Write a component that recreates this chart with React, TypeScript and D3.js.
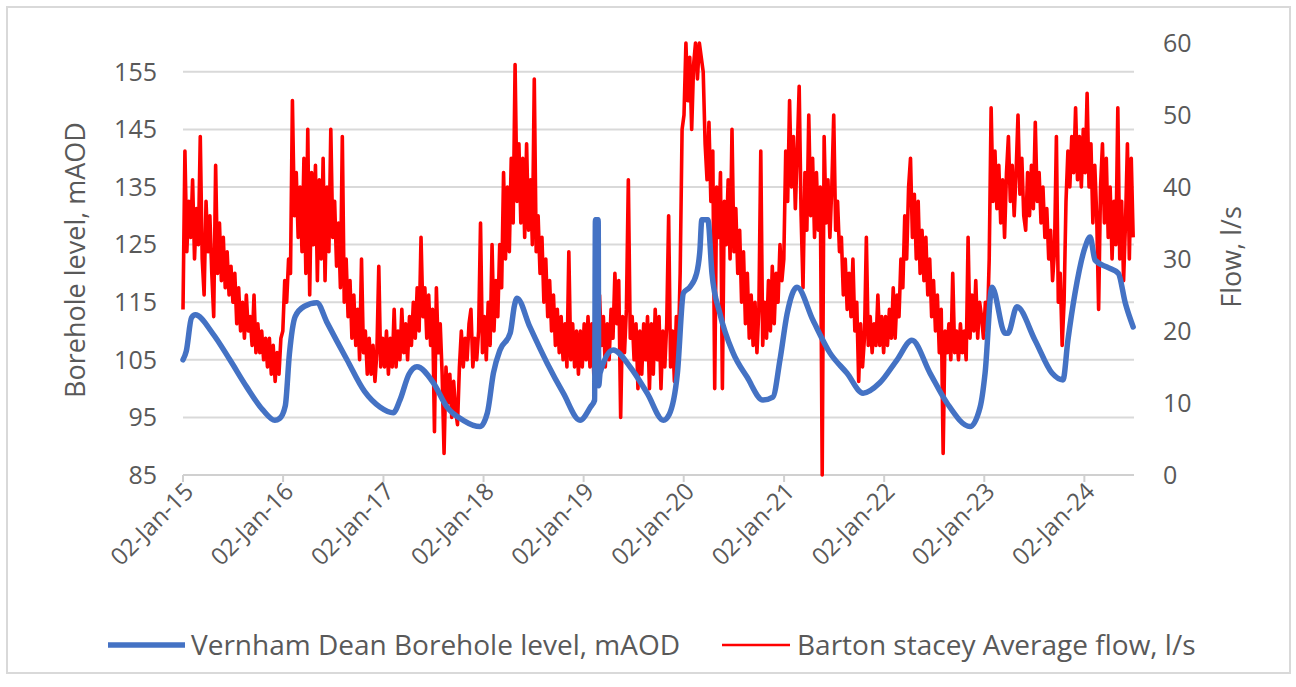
import React from 'react';
import * as d3 from 'd3';

// Vernham Dean borehole level (mAOD)
const levelDates = [
  '2015-01-02', '2015-01-14', '2015-02-02', '2015-02-16', '2015-04-20', '2015-06-22', '2015-08-22', '2015-10-20', '2015-12-03', '2015-12-20',
  '2016-01-10', '2016-01-25', '2016-02-15', '2016-03-20', '2016-05-04', '2016-06-10', '2016-08-22', '2016-10-25', '2016-12-20',
  '2017-02-07', '2017-03-03', '2017-04-05', '2017-05-04', '2017-07-03', '2017-08-22', '2017-10-20', '2017-12-20',
  '2018-01-16', '2018-02-07', '2018-03-03', '2018-04-09', '2018-04-25', '2018-05-04', '2018-06-20', '2018-08-22', '2018-10-20', '2018-12-20',
  '2019-01-27', '2019-02-11', '2019-02-14', '2019-02-24', '2019-02-26', '2019-03-03', '2019-04-20', '2019-06-20', '2019-08-22', '2019-10-20', '2019-11-10', '2019-12-10',
  '2020-01-01', '2020-01-24', '2020-02-18', '2020-03-01', '2020-03-08', '2020-03-30', '2020-04-14', '2020-05-13', '2020-06-30', '2020-08-20', '2020-10-17', '2020-11-22', '2020-12-18',
  '2021-01-13', '2021-02-18', '2021-04-17', '2021-06-18', '2021-08-19', '2021-10-17', '2021-12-17',
  '2022-02-18', '2022-04-13', '2022-06-18', '2022-08-19', '2022-11-11', '2022-12-18',
  '2023-01-05', '2023-01-30', '2023-03-19', '2023-03-29', '2023-05-01', '2023-07-06', '2023-09-06', '2023-10-16', '2023-11-03', '2023-11-29',
  '2024-01-05', '2024-01-23', '2024-02-10', '2024-03-29', '2024-05-05', '2024-05-30', '2024-06-28',
];
const levelValues = [
  105, 106.5, 112.3, 112.8, 109.6, 105, 100.3, 96.3, 94.5, 94.8,
  97, 106, 112.5, 114.3, 114.9, 111.5, 105, 99.5, 96.8,
  95.8, 98, 102.5, 103.8, 101, 96.8, 94.5, 93.4,
  95.8, 102.7, 106.7, 109.6, 114.5, 115.7, 110.7, 104.4, 99.2, 94.5,
  96.8, 98, 129.3, 129.3, 100.5, 102.7, 106.7, 103.8, 99.2, 94.5, 95.5, 102.7,
  116.6, 117.6, 120, 124, 129.3, 129.3, 120, 113, 106.2, 102, 98, 98.5, 105,
  113, 117.6, 111.9, 106.2, 102.7, 99.2, 101,
  105, 108.4, 102.7, 97.5, 93.4, 96.8,
  102.7, 117.6, 109.6, 109.6, 114.2, 108.4, 102.7, 101.5, 108.4, 116.6,
  124.6, 126.3, 122.3, 121, 120, 114.9, 110.7,
];

// Barton Stacey average flow (l/s), one reading per week from 02-Jan-15
const flowStart = '2015-01-02';
const flow2015 = [23, 45, 31, 38, 33, 41, 30, 37, 32, 47, 30, 25, 38, 31, 36, 28, 22, 43, 28, 35, 27, 33, 26, 31, 25, 29, 24, 28, 21, 26, 20, 24, 19, 25, 20, 22, 18, 25, 17, 21, 17, 20, 16, 19, 15, 19, 14, 18, 13, 17, 14, 19];
const flow2016 = [20, 27, 24, 30, 28, 52, 36, 42, 33, 40, 31, 44, 28, 48, 25, 42, 32, 43, 27, 41, 30, 44, 27, 40, 31, 48, 33, 38, 29, 35, 26, 47, 24, 30, 22, 27, 19, 25, 18, 23, 16, 30, 17, 20, 14, 19, 14, 18, 13, 17, 29, 15];
const flow2017 = [19, 15, 20, 14, 19, 15, 23, 15, 20, 16, 23, 17, 21, 16, 22, 18, 24, 19, 26, 20, 33, 22, 26, 19, 25, 18, 23, 6, 26, 17, 21, 14, 3, 15, 10, 14, 8, 13, 9, 7, 15, 20, 15, 19, 16, 21, 23, 15, 19, 16, 20, 35];
const flow2018 = [17, 22, 16, 24, 18, 32, 20, 27, 22, 32, 26, 42, 30, 40, 31, 44, 35, 57, 38, 46, 35, 44, 33, 46, 34, 41, 32, 55, 31, 36, 28, 33, 24, 30, 22, 27, 20, 25, 18, 23, 17, 22, 16, 21, 15, 31, 16, 21, 15, 20, 14, 20];
const flow2019 = [15, 21, 16, 22, 15, 21, 14, 22, 17, 25, 18, 22, 15, 21, 16, 23, 19, 28, 21, 27, 8, 22, 17, 23, 41, 19, 22, 16, 21, 12, 20, 14, 21, 16, 22, 12, 21, 14, 23, 16, 22, 12, 20, 15, 21, 36, 15, 20, 13, 22, 17, 28];
const flow2020 = [48, 50, 60, 52, 58, 48, 57, 60, 55, 60, 58, 56, 46, 41, 49, 38, 45, 12, 40, 33, 42, 12, 38, 32, 41, 30, 48, 31, 37, 28, 34, 24, 31, 21, 28, 19, 25, 18, 24, 17, 23, 45, 18, 24, 19, 27, 20, 29, 21, 28, 24, 32];
const flow2021 = [27, 30, 45, 38, 52, 40, 47, 37, 45, 54, 36, 26, 42, 34, 50, 36, 44, 33, 42, 34, 40, 0, 47, 35, 41, 33, 40, 50, 34, 38, 31, 33, 25, 30, 23, 28, 22, 30, 20, 24, 13, 21, 15, 19, 33, 18, 22, 17, 21, 18, 25, 18];
const flow2022 = [22, 17, 22, 18, 23, 19, 26, 19, 25, 22, 30, 26, 36, 30, 40, 44, 33, 39, 30, 38, 28, 34, 27, 33, 25, 30, 22, 27, 20, 25, 17, 23, 3, 20, 17, 21, 16, 28, 17, 20, 16, 21, 17, 20, 16, 33, 19, 25, 20, 27, 19, 24];
const flow2023 = [22, 19, 24, 20, 30, 51, 38, 45, 37, 43, 35, 41, 33, 42, 47, 38, 43, 36, 42, 50, 39, 44, 36, 34, 42, 36, 43, 37, 49, 38, 42, 35, 40, 33, 37, 30, 34, 27, 31, 47, 24, 28, 18, 24, 38, 45, 40, 47, 42, 51, 41, 47];
const flow2024 = [40, 48, 42, 53, 40, 46, 35, 43, 36, 23, 40, 46, 35, 44, 33, 40, 30, 38, 32, 51, 30, 38, 27, 35, 46, 30, 44, 33];

const yearTicks = [2015, 2016, 2017, 2018, 2019, 2020, 2021, 2022, 2023, 2024];
const levelTicks = [85, 95, 105, 115, 125, 135, 145, 155];
const flowTicks = [0, 10, 20, 30, 40, 50, 60];

const W = 1296;
const H = 687;
const plot = { left: 183, right: 1134, top: 43, bottom: 475 };
const font = '"Open Sans", sans-serif';
const textColor = '#595959';
const blue = '#4472C4';
const red = '#FF0000';

export default function App() {
  const parse = d3.timeParse('%Y-%m-%d');
  const fmt = d3.timeFormat('%d-%b-%y');

  const x = d3.scaleTime()
    .domain([new Date(2015, 0, 2), new Date(2024, 6, 1)])
    .range([plot.left, plot.right]);
  const yLevel = d3.scaleLinear().domain([85, 160]).range([plot.bottom, plot.top]);
  const yFlow = d3.scaleLinear().domain([0, 60]).range([plot.bottom, plot.top]);

  const levelData = levelDates.map((d, i) => ({ date: parse(d) as Date, v: levelValues[i] }));
  const start = parse(flowStart) as Date;
  const flowData = [
    ...flow2015, ...flow2016, ...flow2017, ...flow2018, ...flow2019,
    ...flow2020, ...flow2021, ...flow2022, ...flow2023, ...flow2024,
  ].map((v, i) => ({ date: d3.timeDay.offset(start, i * 7), v }));

  const levelLine = d3.line<{ date: Date; v: number }>()
    .x(d => x(d.date))
    .y(d => yLevel(d.v))
    .curve(d3.curveMonotoneX);
  const flowLine = d3.line<{ date: Date; v: number }>()
    .x(d => x(d.date))
    .y(d => yFlow(d.v));

  const tickDates = yearTicks.map(y => new Date(y, 0, 2));

  return (
    <svg width={W} height={H} style={{ position: 'absolute', left: 0, top: 0, background: '#fff' }}
      fontFamily={font}>
      <rect x={7} y={7} width={1283} height={666} fill="#fff" stroke="#d9d9d9" strokeWidth={2} />

      {/* gridlines follow the left axis */}
      {levelTicks.slice(1).map(t => (
        <line key={t} x1={plot.left} x2={plot.right} y1={yLevel(t)} y2={yLevel(t)}
          stroke="#d9d9d9" strokeWidth={2} />
      ))}

      {/* x axis */}
      <line x1={plot.left} x2={plot.right} y1={plot.bottom} y2={plot.bottom} stroke="#d0d0d0" strokeWidth={2} />
      {tickDates.map((d, i) => (
        <g key={i} transform={`translate(${x(d)},${plot.bottom})`}>
          <line y1={0} y2={7} stroke="#d0d0d0" strokeWidth={2} />
          <text transform="translate(6,12) rotate(-45)" textAnchor="end" dy="0.35em"
            fontSize={24} fill={textColor}>{fmt(d)}</text>
        </g>
      ))}

      {/* left axis labels */}
      {levelTicks.map(t => (
        <text key={t} x={157} y={yLevel(t)} dy="0.35em" textAnchor="end" fontSize={25} fill={textColor}>{t}</text>
      ))}
      {/* right axis labels */}
      {flowTicks.map(t => (
        <text key={t} x={1163} y={yFlow(t)} dy="0.35em" textAnchor="start" fontSize={25} fill={textColor}>{t}</text>
      ))}

      <text transform="translate(76,260) rotate(-90)" textAnchor="middle" dy="0.35em" fontSize={27} fill={textColor}>
        Borehole level, mAOD
      </text>
      <text transform="translate(1232,257) rotate(-90)" textAnchor="middle" dy="0.35em" fontSize={27} fill={textColor}>
        Flow, l/s
      </text>

      <path d={flowLine(flowData) || ''} fill="none" stroke={red} strokeWidth={3.6} strokeLinejoin="round" />
      <path d={levelLine(levelData) || ''} fill="none" stroke={blue} strokeWidth={5.5} strokeLinejoin="round" strokeLinecap="round" />

      {/* legend */}
      <line x1={108} x2={185} y1={645} y2={645} stroke={blue} strokeWidth={5.5} />
      <text x={191} y={645} dy="0.35em" fontSize={28} fill={textColor}>Vernham Dean Borehole level, mAOD</text>
      <line x1={722} x2={790} y1={645} y2={645} stroke={red} strokeWidth={2.5} />
      <text x={797} y={645} dy="0.35em" fontSize={28} fill={textColor}>Barton stacey Average flow, l/s</text>
    </svg>
  );
}
